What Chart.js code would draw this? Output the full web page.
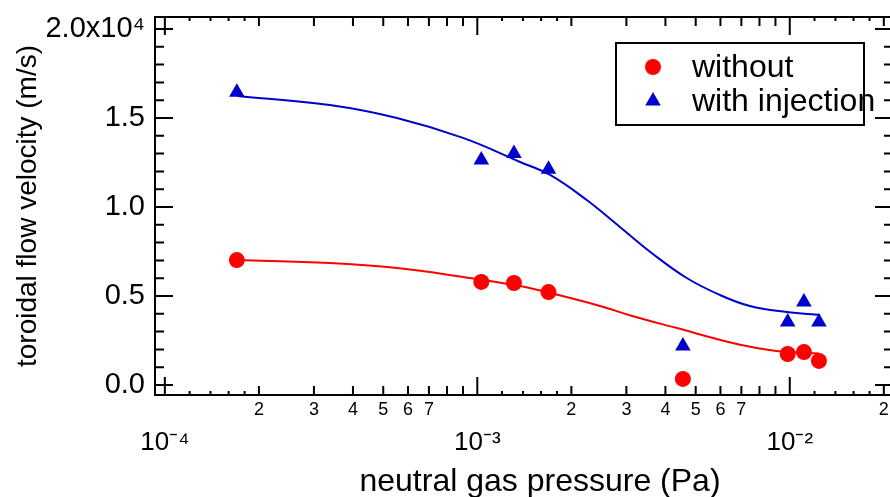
<!DOCTYPE html>
<html>
<head>
<meta charset="utf-8">
<script src="https://cdn.jsdelivr.net/npm/chart.js@4"></script>
<style>
  html, body { margin: 0; padding: 0; overflow: hidden; background: #fff; }
  canvas { display: block; }
</style>
</head>
<body>
<canvas id="flowChart" width="902" height="497" style="width:902px;height:497px"></canvas>
<script>
// measured points (Pa, m/s)
const pressure = [1.70e-4, 1.03e-3, 1.31e-3, 1.69e-3, 4.55e-3, 9.85e-3, 1.11e-2, 1.24e-2];
const velocityWithout = [7020, 5790, 5730, 5220, 340, 1740, 1850, 1350];
const velocityWith = [16450, 12640, 13010, 12120, 2190, 3540, 4660, 3540];

// fitted curves
const fitWithoutP = [1.71e-4, 3.37e-4, 5.53e-4, 9.0e-4, 1.37e-3, 1.71e-3, 2.47e-3, 3.13e-3, 4.35e-3, 6.57e-3, 8.4e-3, 9.8e-3, 1.24e-2];
const fitWithoutV = [7020, 6850, 6570, 6070, 5560, 5170, 4440, 3880, 3200, 2360, 1990, 1850, 1770];
const fitWithP = [1.71e-4, 3.37e-4, 5.53e-4, 9.0e-4, 1.37e-3, 1.71e-3, 2.24e-3, 2.86e-3, 3.65e-3, 4.68e-3, 5.97e-3, 7.45e-3, 9.78e-3, 1.25e-2];
const fitWithV = [16240, 15730, 15000, 13880, 12530, 11800, 10390, 8880, 7360, 6010, 5060, 4440, 4100, 3930];

// x axis ticks
const xMajor = [1e-4, 1e-3, 1e-2];
const xMajorLabels = ['10\u207B\u2074', '10\u207B\u00B3', '10\u207B\u00B2'];
const xMinor = [2e-4, 3e-4, 4e-4, 5e-4, 6e-4, 7e-4, 8e-4, 9e-4,
                2e-3, 3e-3, 4e-3, 5e-3, 6e-3, 7e-3, 8e-3, 9e-3, 2e-2];
const xMinorLabels = ['2', '3', '4', '5', '6', '7', '', '',
                      '2', '3', '4', '5', '6', '7', '', '', '2'];
const xSub = [1.2e-4, 1.4e-4, 1.6e-4, 1.8e-4, 1.2e-3, 1.4e-3, 1.6e-3, 1.8e-3,
              1.2e-2, 1.4e-2, 1.6e-2, 1.8e-2];

// y axis ticks
const yTicks = [0, 1000, 2000, 3000, 4000, 5000, 6000, 7000, 8000, 9000, 10000,
                11000, 12000, 13000, 14000, 15000, 16000, 17000, 18000, 19000, 20000];
const yMajor = [0, 5000, 10000, 15000, 20000];
const yMajorLabels = ['0.0', '0.5', '1.0', '1.5', '2.0x10\u2074'];

const xTitle = 'neutral gas pressure (Pa)';

const family = "'Liberation Sans', Arial, sans-serif";
Chart.defaults.font.family = family;
Chart.defaults.color = '#000';

const red = 'rgb(255, 0, 0)';
const blue = 'rgb(0, 0, 204)';

function toXY(xs, ys) {
    return xs.map((v, i) => ({x: v, y: ys[i]}));
}

// box round the plot with inward ticks on all four sides, plus x title
const frame = {
    id: 'frame',
    afterDraw(chart) {
        const {ctx, chartArea: a, scales: {x, y}} = chart;
        ctx.save();
        ctx.strokeStyle = '#000';
        ctx.lineWidth = 2;
        ctx.strokeRect(a.left, a.top, a.right - a.left, a.bottom - a.top);
        ctx.beginPath();
        x.ticks.forEach(t => {
            const px = x.getPixelForValue(t.value);
            const len = xMajor.includes(t.value) ? 18 : xMinor.includes(t.value) ? 9 : 4;
            ctx.moveTo(px, a.bottom); ctx.lineTo(px, a.bottom - len);
            ctx.moveTo(px, a.top); ctx.lineTo(px, a.top + len);
        });
        y.ticks.forEach(t => {
            const py = y.getPixelForValue(t.value);
            const len = yMajor.includes(t.value) ? 18 : 9;
            ctx.moveTo(a.left, py); ctx.lineTo(a.left + len, py);
            ctx.moveTo(a.right, py); ctx.lineTo(a.right - len, py);
        });
        ctx.stroke();

        ctx.fillStyle = '#000';
        ctx.font = '32px ' + family;
        ctx.textAlign = 'center';
        ctx.textBaseline = 'middle';
        ctx.fillText(xTitle, 540, 482);
        ctx.restore();
    }
};

// legend box in the upper right
const boxLegend = {
    id: 'boxLegend',
    afterDraw(chart) {
        const {ctx, chartArea: a} = chart;
        const left = a.right - 277, top = a.top + 26;
        ctx.save();
        ctx.strokeStyle = '#000';
        ctx.lineWidth = 2;
        ctx.strokeRect(left, top, 248, 82);
        ctx.font = '32px ' + family;
        ctx.textBaseline = 'middle';
        const rows = [0, 1].map(i => chart.data.datasets[i]);
        rows.forEach((ds, i) => {
            const cx = left + 37, cy = top + 24 + i * 34;
            const r = ds.pointRadius;
            ctx.fillStyle = ds.backgroundColor;
            ctx.beginPath();
            if (ds.pointStyle === 'triangle') {
                ctx.moveTo(cx, cy - r);
                ctx.lineTo(cx + r * Math.sin(Math.PI * 2 / 3), cy - r * Math.cos(Math.PI * 2 / 3));
                ctx.lineTo(cx + r * Math.sin(Math.PI * 4 / 3), cy - r * Math.cos(Math.PI * 4 / 3));
                ctx.closePath();
            } else {
                ctx.arc(cx, cy, r, 0, Math.PI * 2);
            }
            ctx.fill();
            ctx.fillStyle = '#000';
            ctx.fillText(ds.label, left + 76, cy + 1);
        });
        ctx.restore();
    }
};

let flowChart = new Chart(document.getElementById('flowChart'), {
    type: 'scatter',
    data: {
        datasets: [{
            label: 'without',
            data: toXY(pressure, velocityWithout),
            pointStyle: 'circle',
            pointRadius: 8,
            backgroundColor: red,
            borderWidth: 0,
        }, {
            label: 'with injection',
            data: toXY(pressure, velocityWith),
            pointStyle: 'triangle',
            pointRadius: 9,
            backgroundColor: blue,
            borderWidth: 0,
        }, {
            label: 'fit without',
            data: toXY(fitWithoutP, fitWithoutV),
            showLine: true,
            pointRadius: 0,
            borderColor: red,
            borderWidth: 2,
            tension: 0.4,
        }, {
            label: 'fit with injection',
            data: toXY(fitWithP, fitWithV),
            showLine: true,
            pointRadius: 0,
            borderColor: blue,
            borderWidth: 2,
            tension: 0.4,
        }]
    },
    options: {
        responsive: false,
        animation: false,
        // canvas is wider than the window so the right edge of the frame is cut off, as in the original
        layout: { padding: { left: 0, top: 17, right: 0, bottom: 0 } },
        plugins: {
            legend: { display: false },
            tooltip: { enabled: false },
        },
        scales: {
            x: {
                type: 'logarithmic',
                bounds: 'data',
                min: 9.3e-5,
                max: 2.14e-2,
                grid: { display: false, drawTicks: false },
                border: { display: false },
                afterBuildTicks: (scale) => {
                    scale.ticks = [...xMajor, ...xMinor, ...xSub]
                        .sort((p, q) => p - q)
                        .map(v => ({value: v}));
                },
                afterFit: (scale) => {
                    scale.height = 102;
                    scale.paddingLeft = 0;
                    scale.paddingRight = 0;
                },
                ticks: {
                    autoSkip: false,
                    maxRotation: 0,
                    minRotation: 0,
                    padding: 4,
                    color: '#000',
                    font: (c) => xMajor.includes(c.tick && c.tick.value)
                        ? {size: 26, lineHeight: 1.12}
                        : {size: 18, lineHeight: 1.2},
                    callback: (value) => {
                        let i = xMajor.indexOf(value);
                        if (i >= 0) return ['', xMajorLabels[i]];
                        i = xMinor.indexOf(value);
                        return i >= 0 ? xMinorLabels[i] : '';
                    },
                },
                title: { display: false },
            },
            y: {
                bounds: 'data',
                min: -562,
                max: 20674,
                grid: { display: false, drawTicks: false },
                border: { display: false },
                afterBuildTicks: (scale) => {
                    scale.ticks = yTicks.map(v => ({value: v}));
                },
                afterFit: (scale) => {
                    scale.width = 155;
                    scale.paddingTop = 0;
                    scale.paddingBottom = 0;
                },
                ticks: {
                    autoSkip: false,
                    padding: 10,
                    color: '#000',
                    font: { size: 29 },
                    callback: (value) => {
                        const i = yMajor.indexOf(value);
                        return i >= 0 ? yMajorLabels[i] : '';
                    },
                },
                title: {
                    display: true,
                    text: 'toroidal flow velocity (m/s)',
                    color: '#000',
                    font: { size: 28 },
                    padding: { top: 11, bottom: 0 },
                },
            },
        },
    },
    plugins: [frame, boxLegend],
});
</script>
</body>
</html>
